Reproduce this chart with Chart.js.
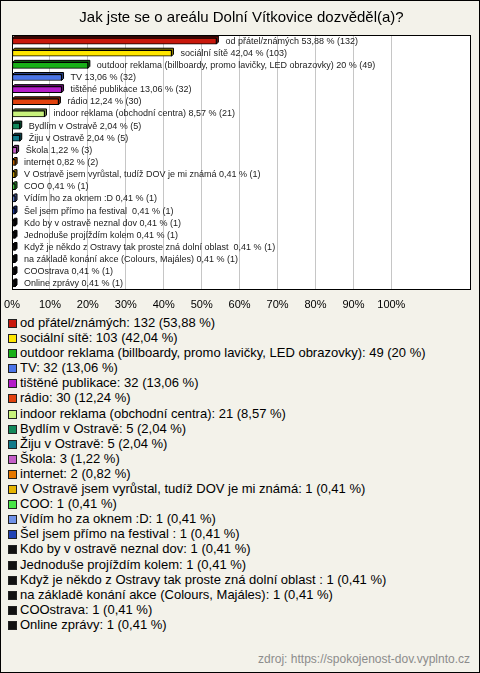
<!DOCTYPE html>
<html>
<head>
<meta charset="utf-8">
<script src="https://cdn.jsdelivr.net/npm/chart.js@4"></script>
<style>
  body { margin: 0; }
  #box {
    position: relative; width: 480px; height: 673px; box-sizing: border-box;
    border: 1px solid #000; background: #f3f2ea; font-family: 'Liberation Sans', Arial, sans-serif;
  }
  #chart { position: absolute; left: -1px; top: -1px; }
  #legend { position: absolute; left: 7px; top: 314px; font-size: 13px; color: #000; }
  #legend div { height: 15.1px; line-height: 15.1px; white-space: nowrap; }
  #legend span.sw {
    display: inline-block; width: 7px; height: 7px; border: 1px solid #222;
    margin-right: 3px; vertical-align: -1px;
  }
  #source { position: absolute; right: 9px; top: 651px; font-size: 12px; color: #8c8c8c; }
</style>
</head>
<body>
<div id="box">
  <canvas id="chart" width="480" height="312"></canvas>
  <div id="legend"></div>
  <div id="source">zdroj: https://spokojenost-dov.vyplnto.cz</div>
</div>
<script>
const categories = [
  'od přátel/známých', 'sociální sítě',
  'outdoor reklama (billboardy, promo lavičky, LED obrazovky)', 'TV',
  'tištěné publikace', 'rádio', 'indoor reklama (obchodní centra)',
  'Bydlím v Ostravě', 'Žiju v Ostravě', 'Škola', 'internet',
  'V Ostravě jsem vyrůstal, tudíž DOV je mi známá', 'COO', 'Vídím ho za oknem :D',
  'Šel jsem přímo na festival ', 'Kdo by v ostravě neznal dov', 'Jednoduše projíždím kolem',
  'Když je někdo z Ostravy tak proste zná dolní oblast ',
  'na základě konání akce (Colours, Majáles)', 'COOstrava', 'Online zprávy'
];
const counts = [132, 103, 49, 32, 32, 30, 21, 5, 5, 3, 2, 1, 1, 1, 1, 1, 1, 1, 1, 1, 1];
const percents = [53.88, 42.04, 20, 13.06, 13.06, 12.24, 8.57, 2.04, 2.04, 1.22, 0.82,
  0.41, 0.41, 0.41, 0.41, 0.41, 0.41, 0.41, 0.41, 0.41, 0.41];
const colors = [
  '#c8180c', '#ffe600', '#18b018', '#4a74e8', '#b41cc8', '#e2420e', '#c8f27c',
  '#12885a', '#127a8a', '#c45ec8', '#e67800', '#e6b400', '#48e448', '#7092e8',
  '#2244b4', '#111111', '#111111', '#111111', '#111111', '#111111', '#111111'
];
const tickValues = [0, 10, 20, 30, 40, 50, 60, 70, 80, 90, 100];

const fmt = v => String(v).replace('.', ',');

function darken(hex, f) {
  const n = parseInt(hex.slice(1), 16);
  const r = Math.round(((n >> 16) & 255) * f), g = Math.round(((n >> 8) & 255) * f), b = Math.round((n & 255) * f);
  return `rgb(${r},${g},${b})`;
}

// white plot background + black frame
const plotFrame = {
  id: 'plotFrame',
  beforeDraw(chart) {
    const a = chart.chartArea, c = chart.ctx;
    c.save();
    c.fillStyle = '#fff';
    c.fillRect(a.left, a.top, a.right - a.left, a.bottom - a.top);
    c.restore();
  },
  afterDraw(chart) {
    const a = chart.chartArea, c = chart.ctx;
    c.save();
    c.strokeStyle = '#000';
    c.lineWidth = 1;
    c.strokeRect(a.left + 0.5, a.top + 0.5, a.right - a.left - 1, a.bottom - a.top - 1);
    c.restore();
  }
};

// fake 3d depth for bars + value labels
const depth = 2;
const bars3d = {
  id: 'bars3d',
  beforeDatasetsDraw(chart) {
    const c = chart.ctx;
    chart.getDatasetMeta(0).data.forEach((bar, i) => {
      const top = bar.y - bar.height / 2, bot = bar.y + bar.height / 2;
      c.save();
      c.fillStyle = darken(colors[i], 0.55);
      c.strokeStyle = '#000';
      c.lineWidth = 1;
      c.beginPath();
      c.moveTo(bar.base, top);
      c.lineTo(bar.base + depth, top - depth);
      c.lineTo(bar.x + depth, top - depth);
      c.lineTo(bar.x + depth, bot - depth);
      c.lineTo(bar.x, bot);
      c.lineTo(bar.x, top);
      c.closePath();
      c.fill();
      c.stroke();
      c.restore();
    });
  },
  afterDatasetsDraw(chart) {
    const c = chart.ctx;
    c.save();
    c.font = '9px "Liberation Sans", Arial, sans-serif';
    c.fillStyle = '#222';
    c.textBaseline = 'middle';
    chart.getDatasetMeta(0).data.forEach((bar, i) => {
      c.fillText(`${categories[i]} ${fmt(percents[i])} % (${counts[i]})`, bar.x + 9, bar.y);
    });
    c.restore();
  }
};

new Chart(document.getElementById('chart').getContext('2d'), {
  type: 'bar',
  data: {
    labels: categories,
    datasets: [{
      data: percents,
      backgroundColor: colors,
      borderColor: '#000',
      borderWidth: 1,
      borderSkipped: false,
      barThickness: 6,
      minBarLength: 3
    }]
  },
  options: {
    indexAxis: 'y',
    responsive: false,
    animation: false,
    devicePixelRatio: 1,
    layout: { padding: { left: 12, right: 9, top: 0, bottom: 2 } },
    scales: {
      x: {
        min: 0,
        max: 121,
        afterBuildTicks: s => { s.ticks = tickValues.map(v => ({ value: v })); },
        afterFit: s => { s.height = 20; s.paddingLeft = 0; s.paddingRight = 0; },
        grid: { color: '#c6c6c6', drawTicks: false },
        border: { display: false },
        ticks: {
          padding: 8,
          color: '#000',
          font: { family: 'Liberation Sans', size: 11 },
          callback: v => v + '%'
        }
      },
      y: { display: false }
    },
    plugins: {
      legend: { display: false },
      tooltip: { enabled: false },
      title: {
        display: true,
        text: 'Jak jste se o areálu Dolní Vítkovice dozvěděl(a)?',
        color: '#000',
        font: { family: 'Liberation Sans', size: 15, weight: 'normal' },
        padding: { top: 9, bottom: 8 }
      }
    }
  },
  plugins: [plotFrame, bars3d]
});

// legend list
const legend = document.getElementById('legend');
categories.forEach((name, i) => {
  const row = document.createElement('div');
  const sw = document.createElement('span');
  sw.className = 'sw';
  sw.style.background = colors[i];
  row.appendChild(sw);
  row.appendChild(document.createTextNode(`${name}: ${counts[i]} (${fmt(percents[i])} %)`));
  legend.appendChild(row);
});
</script>
</body>
</html>
